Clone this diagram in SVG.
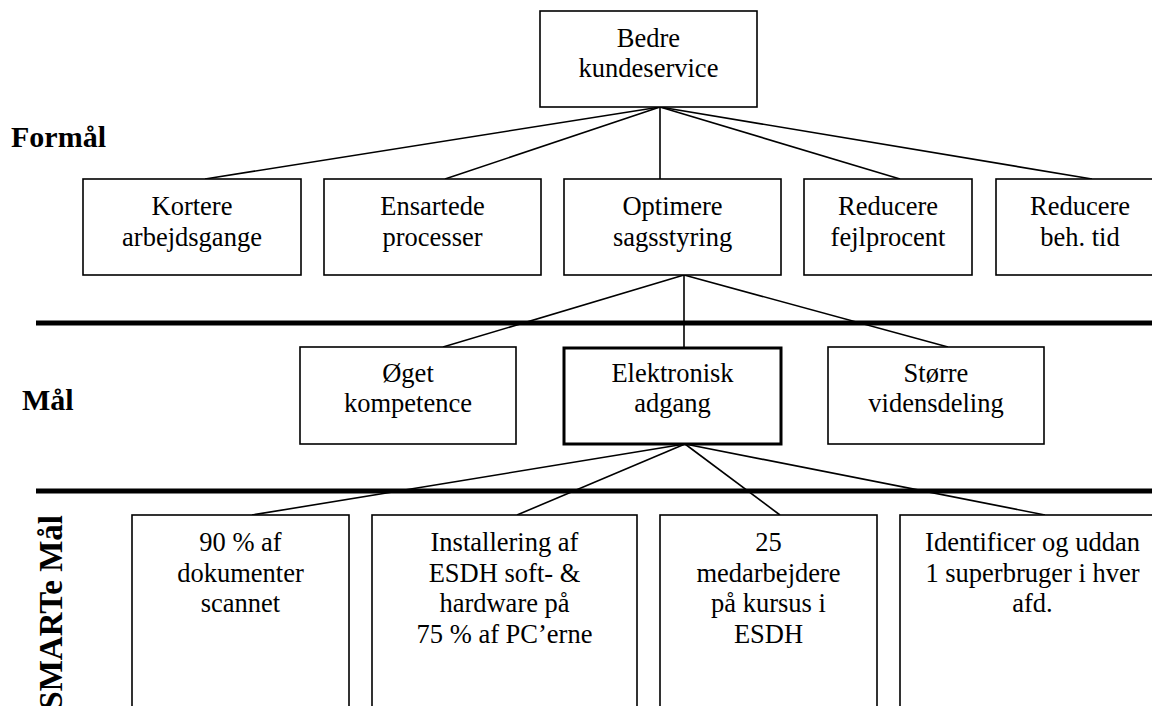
<svg xmlns="http://www.w3.org/2000/svg" width="1152" height="706" viewBox="0 0 1152 706">
  <style>
    .box { fill: #ffffff; stroke: #000000; stroke-width: 1.6; }
    .box-strong { fill: #ffffff; stroke: #000000; stroke-width: 3; }
    .link { fill: none; stroke: #000000; stroke-width: 1.6; }
    .divider { fill: none; stroke: #000000; stroke-width: 5; }
    .lbl { font-family: "Liberation Serif", "Times New Roman", serif; font-size: 26.5px; fill: #000000; text-anchor: middle; }
    .tier { font-family: "Liberation Serif", "Times New Roman", serif; font-size: 30px; font-weight: bold; fill: #000000; }
  </style>

  <!-- level dividers -->
  <g id="dividers">
    <line class="divider" x1="36" y1="323" x2="1152" y2="323"/>
    <line class="divider" x1="36" y1="491" x2="1152" y2="491"/>
  </g>

  <!-- tier labels -->
  <g id="tier-labels">
    <text class="tier" x="11" y="147">Formål</text>
    <text class="tier" x="22" y="410">Mål</text>
    <text class="tier" transform="translate(62 515) rotate(-90)" text-anchor="end" style="font-size:33px">SMARTe Mål</text>
  </g>

  <!-- connectors -->
  <g id="connectors">
    <line class="link" x1="660" y1="107" x2="205" y2="179"/>
    <line class="link" x1="660" y1="107" x2="445" y2="179"/>
    <line class="link" x1="660" y1="107" x2="660" y2="179"/>
    <line class="link" x1="660" y1="107" x2="900" y2="179"/>
    <line class="link" x1="660" y1="107" x2="1092" y2="179"/>

    <line class="link" x1="684" y1="275" x2="443" y2="347"/>
    <line class="link" x1="684" y1="275" x2="684" y2="347"/>
    <line class="link" x1="684" y1="275" x2="948" y2="347"/>

    <line class="link" x1="685" y1="444" x2="252" y2="515"/>
    <line class="link" x1="685" y1="444" x2="517" y2="515"/>
    <line class="link" x1="685" y1="444" x2="780" y2="515"/>
    <line class="link" x1="685" y1="444" x2="1045" y2="515"/>
  </g>

  <!-- top purpose -->
  <g id="bedre-kundeservice">
    <rect class="box" x="540" y="11" width="217" height="96"/>
    <text class="lbl" x="648.5" y="46.5">Bedre</text>
    <text class="lbl" x="648.5" y="77">kundeservice</text>
  </g>

  <!-- purposes -->
  <g id="kortere-arbejdsgange">
    <rect class="box" x="83" y="179" width="218" height="96"/>
    <text class="lbl" x="192" y="215">Kortere</text>
    <text class="lbl" x="192" y="245.5">arbejdsgange</text>
  </g>
  <g id="ensartede-processer">
    <rect class="box" x="324" y="179" width="217" height="96"/>
    <text class="lbl" x="432.5" y="215">Ensartede</text>
    <text class="lbl" x="432.5" y="245.5">processer</text>
  </g>
  <g id="optimere-sagsstyring">
    <rect class="box" x="564" y="179" width="217" height="96"/>
    <text class="lbl" x="672.5" y="215">Optimere</text>
    <text class="lbl" x="672.5" y="245.5">sagsstyring</text>
  </g>
  <g id="reducere-fejlprocent">
    <rect class="box" x="804" y="179" width="168" height="96"/>
    <text class="lbl" x="888" y="215">Reducere</text>
    <text class="lbl" x="888" y="245.5">fejlprocent</text>
  </g>
  <g id="reducere-beh-tid">
    <rect class="box" x="996" y="179" width="168" height="96"/>
    <text class="lbl" x="1080" y="215">Reducere</text>
    <text class="lbl" x="1080" y="245.5">beh. tid</text>
  </g>

  <!-- goals -->
  <g id="oeget-kompetence">
    <rect class="box" x="300" y="347" width="216" height="97"/>
    <text class="lbl" x="408" y="382">Øget</text>
    <text class="lbl" x="408" y="412">kompetence</text>
  </g>
  <g id="elektronisk-adgang">
    <rect class="box-strong" x="564" y="348" width="217" height="96"/>
    <text class="lbl" x="672.5" y="382">Elektronisk</text>
    <text class="lbl" x="672.5" y="412">adgang</text>
  </g>
  <g id="stoerre-vidensdeling">
    <rect class="box" x="828" y="347" width="216" height="97"/>
    <text class="lbl" x="936" y="382">Større</text>
    <text class="lbl" x="936" y="412">vidensdeling</text>
  </g>

  <!-- SMART goals -->
  <g id="dokumenter-scannet">
    <rect class="box" x="132" y="515" width="217" height="210"/>
    <text class="lbl" x="240.5" y="551">90 % af</text>
    <text class="lbl" x="240.5" y="581.5">dokumenter</text>
    <text class="lbl" x="240.5" y="612">scannet</text>
  </g>
  <g id="installering-esdh">
    <rect class="box" x="372" y="515" width="265" height="210"/>
    <text class="lbl" x="504.5" y="551">Installering af</text>
    <text class="lbl" x="504.5" y="581.5">ESDH soft- &amp;</text>
    <text class="lbl" x="504.5" y="612">hardware på</text>
    <text class="lbl" x="504.5" y="642.5">75 % af PC’erne</text>
  </g>
  <g id="medarbejdere-kursus">
    <rect class="box" x="660" y="515" width="217" height="210"/>
    <text class="lbl" x="768.5" y="551">25</text>
    <text class="lbl" x="768.5" y="581.5">medarbejdere</text>
    <text class="lbl" x="768.5" y="612">på kursus i</text>
    <text class="lbl" x="768.5" y="642.5">ESDH</text>
  </g>
  <g id="superbruger">
    <rect class="box" x="900" y="515" width="265" height="210"/>
    <text class="lbl" x="1032.5" y="551">Identificer og uddan</text>
    <text class="lbl" x="1032.5" y="581.5">1 superbruger i hver</text>
    <text class="lbl" x="1032.5" y="612">afd.</text>
  </g>
</svg>
